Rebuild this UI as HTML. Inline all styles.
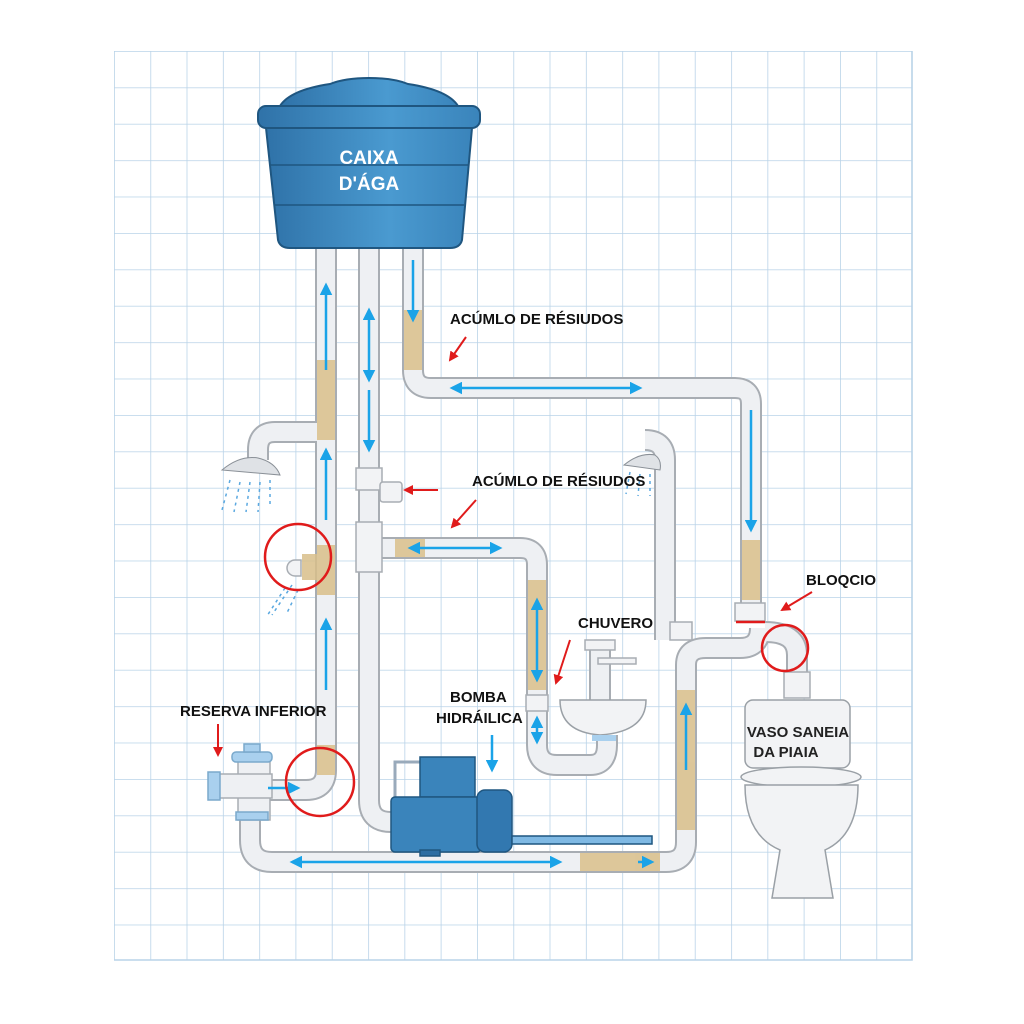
<!DOCTYPE html>
<html><head><meta charset="utf-8"><style>
html,body{margin:0;padding:0;background:#fff}
svg{display:block}
text{font-family:"Liberation Sans",sans-serif;font-weight:bold}
</style></head><body>
<svg width="1024" height="1024" viewBox="0 0 1024 1024" xmlns="http://www.w3.org/2000/svg">
<defs>
<pattern id="g" x="114" y="51" width="36.3" height="36.4" patternUnits="userSpaceOnUse">
<path d="M0 0H36.3M0 0V36.4" stroke="#b9d3e8" stroke-width="1.6" fill="none"/>
</pattern>
<linearGradient id="tank" x1="0" x2="1"><stop offset="0" stop-color="#2f72a8"/><stop offset=".6" stop-color="#4a9ad0"/><stop offset="1" stop-color="#3a84bb"/></linearGradient>
<marker id="ah" viewBox="0 0 10 10" refX="8" refY="5" markerWidth="5" markerHeight="5" orient="auto-start-reverse"><path d="M0 0L10 5L0 10z" fill="#1aa3e8"/></marker>
<marker id="rh" viewBox="0 0 10 10" refX="8" refY="5" markerWidth="5" markerHeight="5" orient="auto"><path d="M0 0L10 5L0 10z" fill="#e01b1b"/></marker>
</defs>
<rect width="1024" height="1024" fill="#fff"/>
<rect x="114" y="51" width="798" height="909" fill="url(#g)"/>
<path d="M912 51V960H114" stroke="#b9d3e8" stroke-width="1.6" fill="none"/>

<g fill="none" stroke-linejoin="round" stroke-linecap="butt">
<g stroke="#a8adb3" stroke-width="22">
<path d="M326 245V770Q326 790 306 790H270"/>
<path d="M369 245V800Q369 822 391 822"/>
<path d="M413 245V370Q413 388 431 388H735Q751 388 751 404V615"/>
<path d="M326 432H275Q258 432 258 450V460"/>
<path d="M369 548H520Q537 548 537 565V745Q537 765 557 765H590Q607 765 607 745V735"/>
<path d="M250 790V840Q250 862 272 862H666Q686 862 686 842V665Q686 648 706 648H740Q760 648 760 628"/>
<path d="M665 640V460Q665 440 645 440"/>
<path d="M765 632Q797 632 797 655V685"/>
<path d="M600 700V640"/>
</g>
<g stroke="#eef0f3" stroke-width="18">
<path d="M326 245V770Q326 790 306 790H270"/>
<path d="M369 245V800Q369 822 391 822"/>
<path d="M413 245V370Q413 388 431 388H735Q751 388 751 404V615"/>
<path d="M326 432H275Q258 432 258 450V460"/>
<path d="M369 548H520Q537 548 537 565V745Q537 765 557 765H590Q607 765 607 745V735"/>
<path d="M250 790V840Q250 862 272 862H666Q686 862 686 842V665Q686 648 706 648H740Q760 648 760 628"/>
<path d="M665 640V460Q665 440 645 440"/>
<path d="M765 632Q797 632 797 655V685"/>
<path d="M600 700V640"/>
</g>
</g>
<g fill="#d9bf8a" opacity=".85">
<rect x="317" y="745" width="18" height="30"/><rect x="317" y="360" width="18" height="80"/>
<rect x="317" y="545" width="18" height="50"/><rect x="404" y="310" width="18" height="60"/>
<rect x="528" y="580" width="18" height="110"/><rect x="742" y="540" width="18" height="60"/>
<rect x="677" y="690" width="18" height="140"/><rect x="580" y="853" width="80" height="18"/>
<rect x="395" y="539" width="30" height="18"/><rect x="302" y="554" width="28" height="26"/>
</g>
<g fill="#f2f3f5" stroke="#a8adb3" stroke-width="1.5">
<rect x="356" y="468" width="26" height="22"/><rect x="380" y="482" width="22" height="20" rx="3"/>
<rect x="356" y="522" width="26" height="50"/>
<rect x="735" y="603" width="30" height="18"/><rect x="670" y="622" width="22" height="18"/>
<rect x="784" y="672" width="26" height="26"/>
<rect x="526" y="695" width="22" height="16"/>
<rect x="585" y="640" width="30" height="10"/><rect x="598" y="658" width="38" height="6"/>
<path d="M301 560h-6a8 8 0 0 0 0 16h6z"/>
</g>
<g stroke="#7aa9cc" stroke-width="1.5">
<rect x="238" y="760" width="32" height="60" fill="#eef0f3" stroke="#a8adb3"/>
<rect x="212" y="774" width="60" height="24" fill="#eef0f3" stroke="#a8adb3"/>
<rect x="208" y="772" width="12" height="28" fill="#a9d0ee"/>
<rect x="232" y="752" width="40" height="10" rx="4" fill="#a9d0ee"/>
<rect x="244" y="744" width="16" height="8" fill="#a9d0ee"/>
<rect x="236" y="812" width="32" height="8" fill="#a9d0ee"/>
</g>
<!-- tank -->
<path d="M280 106Q290 90 330 84Q345 78 369 78Q393 78 408 84Q448 90 458 106Z" fill="url(#tank)" stroke="#1f5680" stroke-width="2"/>
<rect x="258" y="106" width="222" height="22" rx="8" fill="url(#tank)" stroke="#1f5680" stroke-width="2"/>
<path d="M266 128H472L462 240Q460 248 450 248H290Q280 248 278 240Z" fill="url(#tank)" stroke="#1f5680" stroke-width="2"/>
<path d="M270 165H468M274 205H464" stroke="#1f5680" stroke-width="1.5"/>
<text x="369" y="164" fill="#fff" font-size="19" text-anchor="middle">CAIXA</text>
<text x="369" y="190" fill="#fff" font-size="19" text-anchor="middle">D'ÁGA</text>
<path d="M222 470Q240 455 258 458Q275 462 280 475Z" fill="#dfe2e6" stroke="#8a9097"/>
<path d="M624 465Q640 452 655 455Q662 460 660 470Z" fill="#dfe2e6" stroke="#8a9097"/>
<g stroke="#5aa8e0" stroke-width="1.5" stroke-dasharray="3 4">
<path d="M230 480l-8 30M240 482l-6 30M250 482l-4 30M260 482l-2 30M270 480v28"/>
<path d="M292 585l-20 30M285 588l-18 28M298 590l-12 25"/>
<path d="M630 472l-4 22M640 474l-2 22M650 474v22"/>
</g>
<path d="M560 700H646Q646 732 600 735Q560 732 560 700Z" fill="#f2f3f5" stroke="#9aa0a6" stroke-width="1.5"/>
<rect x="592" y="735" width="24" height="6" fill="#a9d0ee"/>
<g stroke="#1f5680" stroke-width="1.5">
<path d="M395 820V762H420" fill="none" stroke="#9ab" stroke-width="3"/>
<rect x="420" y="757" width="55" height="40" fill="#3a84bb"/>
<rect x="391" y="797" width="90" height="55" rx="4" fill="#3a84bb"/>
<rect x="477" y="790" width="35" height="62" rx="8" fill="#3278b0"/>
<rect x="512" y="836" width="140" height="8" fill="#7fb9e4"/>
<rect x="420" y="850" width="20" height="6" fill="#2d6ea3"/>
</g>
<rect x="745" y="700" width="105" height="68" rx="8" fill="#f2f3f5" stroke="#9aa0a6" stroke-width="1.5"/>
<ellipse cx="801" cy="777" rx="60" ry="10" fill="#f2f3f5" stroke="#9aa0a6" stroke-width="1.5"/>
<path d="M745 785Q745 835 780 850L772 898H833L825 850Q858 835 858 785Z" fill="#f2f3f5" stroke="#9aa0a6" stroke-width="1.5"/>
<text x="798" y="737" font-size="15" text-anchor="middle" fill="#222">VASO SANEIA</text>
<text x="786" y="757" font-size="15" text-anchor="middle" fill="#222">DA PIAIA</text>
<g stroke="#1aa3e8" stroke-width="2.5" marker-end="url(#ah)">
<path d="M326 370V285"/><path d="M326 520V450"/><path d="M326 690V620"/>
<path d="M369 310V380" marker-start="url(#ah)"/><path d="M369 390V450"/>
<path d="M413 260V320"/>
<path d="M452 388H640" marker-start="url(#ah)"/>
<path d="M410 548H500" marker-start="url(#ah)"/>
<path d="M537 600V680" marker-start="url(#ah)"/><path d="M537 718V742" marker-start="url(#ah)"/>
<path d="M751 410V530"/>
<path d="M686 770V705"/>
<path d="M292 862H560" marker-start="url(#ah)"/><path d="M638 862H652"/>
<path d="M268 788H298"/>
<path d="M492 735V770"/>
</g>
<g fill="none" stroke="#e01b1b" stroke-width="2.5">
<circle cx="298" cy="557" r="33"/><circle cx="320" cy="782" r="34"/><circle cx="785" cy="648" r="23"/>
<path d="M736 622H765"/>
</g>
<g stroke="#e01b1b" stroke-width="2" marker-end="url(#rh)">
<path d="M466 337L450 360"/><path d="M438 490H405"/><path d="M476 500L452 527"/>
<path d="M812 592L782 610"/><path d="M570 640L556 683"/><path d="M218 724V755"/>
</g>
<g font-size="15" fill="#111">
<text x="450" y="324">ACÚMLO DE RÉSIUDOS</text>
<text x="472" y="486">ACÚMLO DE RÉSIUDOS</text>
<text x="806" y="585">BLOQCIO</text>
<text x="578" y="628">CHUVERO</text>
<text x="450" y="702">BOMBA</text>
<text x="436" y="723">HIDRÁILICA</text>
<text x="180" y="716">RESERVA INFERIOR</text>
</g>
</svg>
</body></html>
